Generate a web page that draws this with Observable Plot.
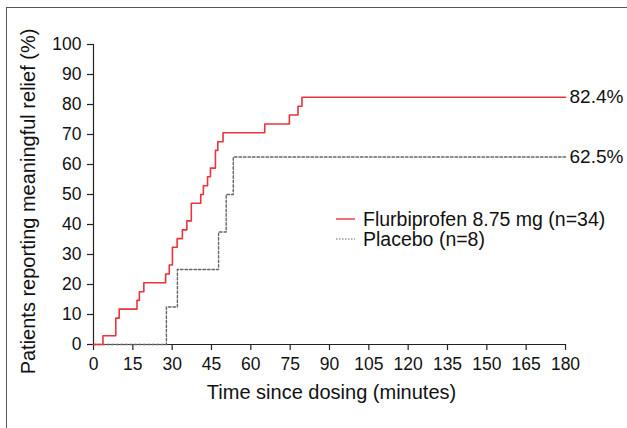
<!DOCTYPE html>
<html><head><meta charset="utf-8">
<script src="https://cdn.jsdelivr.net/npm/d3@7"></script>
<script src="https://cdn.jsdelivr.net/npm/@observablehq/plot@0.6"></script>
<style>
html,body{margin:0;padding:0;background:#fff;}
#wrap{position:relative;width:627px;height:428px;overflow:hidden;font-family:"Liberation Sans",Arial,sans-serif;}
#frame{position:absolute;left:6px;top:7px;width:700px;height:500px;border:1.5px solid #555;box-sizing:border-box;}
#chart{position:absolute;left:0;top:0;}
#legend{position:absolute;left:336px;top:209px;font-size:19.5px;color:#111;line-height:20px;}
#legend div{display:flex;align-items:center;white-space:nowrap;}
#legend svg{margin-right:8px;}
</style></head>
<body>
<div id="wrap"><div id="frame"></div><div id="chart"></div><div id="legend"></div></div>
<script>
const seriesNames = ["Flurbiprofen 8.75 mg (n=34)", "Placebo (n=8)"];
const seriesColors = ["#e8343c", "#666666"];
const flurbiTime = [0, 3.6, 8.5, 9.8, 16.6, 17.5, 19.2, 27.5, 28.9, 30.1, 31.9, 33.9, 35.6, 37.3, 40.9, 41.9, 43.5, 44.6, 46.5, 47.4, 49.4, 65.3, 74.7, 78.0, 79.5, 180];
const flurbiPct  = [0, 2.9, 8.8, 11.8, 14.7, 17.6, 20.6, 23.5, 26.5, 32.4, 35.3, 38.2, 41.2, 47.1, 50.0, 52.9, 55.9, 58.8, 64.7, 67.6, 70.6, 73.5, 76.5, 79.4, 82.4, 82.4];
const placeboTime = [0, 27.8, 32.0, 47.7, 50.6, 53.3, 180];
const placeboPct  = [0, 12.5, 25, 37.5, 50, 62.5, 62.5];
const endLabels = ["82.4%", "62.5%"];
const xTicks = [0, 15, 30, 45, 60, 75, 90, 105, 120, 135, 150, 165, 180];
const yTicks = [0, 10, 20, 30, 40, 50, 60, 70, 80, 90, 100];
const xTitle = "Time since dosing (minutes)";
const yTitle = "Patients reporting meaningful relief (%)";

const flurbi = flurbiTime.map((t, i) => ({t, p: flurbiPct[i]}));
const placebo = placeboTime.map((t, i) => ({t, p: placeboPct[i]}));
const ends = [
  {t: flurbi[flurbi.length - 1].t, p: flurbi[flurbi.length - 1].p, label: endLabels[0]},
  {t: placebo[placebo.length - 1].t, p: placebo[placebo.length - 1].p, label: endLabels[1]}
];

const chart = Plot.plot({
  width: 627, height: 428,
  marginLeft: 93, marginRight: 62, marginTop: 44, marginBottom: 84,
  style: {fontFamily: '"Liberation Sans", Arial, sans-serif', background: "transparent", color: "#111"},
  x: {domain: [0, 180]},
  y: {domain: [0, 100]},
  marks: [
    Plot.axisX({ticks: xTicks, tickSize: 6, tickPadding: 7, fontSize: 17.5, label: null, stroke: "#222", strokeWidth: 1.2}),
    Plot.axisY({ticks: yTicks, tickSize: 6, tickPadding: 6, fontSize: 17.5, label: null, stroke: "#222", strokeWidth: 1.2}),
    Plot.ruleX([0], {y1: 0, y2: 100, stroke: "#222", strokeWidth: 1.2}),
    Plot.ruleY([0], {x1: 0, x2: 180, stroke: "#222", strokeWidth: 1.2}),
    Plot.line(placebo, {x: "t", y: "p", curve: "step-after", stroke: seriesColors[1], strokeWidth: 1.4, strokeDasharray: "2.5,2"}),
    Plot.line(flurbi, {x: "t", y: "p", curve: "step-after", stroke: seriesColors[0], strokeWidth: 1.6}),
    Plot.text(ends, {x: "t", y: "p", text: "label", textAnchor: "start", dx: 4, fontSize: 19, fill: "#111"}),
    Plot.text([xTitle], {frameAnchor: "bottom", lineAnchor: "middle", dy: 48, dx: 2, fontSize: 20, fill: "#111"}),
    Plot.text([yTitle], {frameAnchor: "left", textAnchor: "middle", lineAnchor: "middle", rotate: -90, dx: -65, dy: 7, fontSize: 20, fill: "#111"})
  ]
});
document.getElementById("chart").appendChild(chart);

const legend = document.getElementById("legend");
seriesNames.forEach((name, i) => {
  const row = document.createElement("div");
  const dash = i === 1 ? ' stroke-dasharray="1.5,1.5"' : '';
  row.innerHTML = `<svg width="19" height="6"><line x1="0" x2="19" y1="3" y2="3" stroke="${seriesColors[i]}" stroke-width="${i === 1 ? 1 : 1.4}"${dash}/></svg><span>${name}</span>`;
  legend.appendChild(row);
});
</script>
</body></html>
